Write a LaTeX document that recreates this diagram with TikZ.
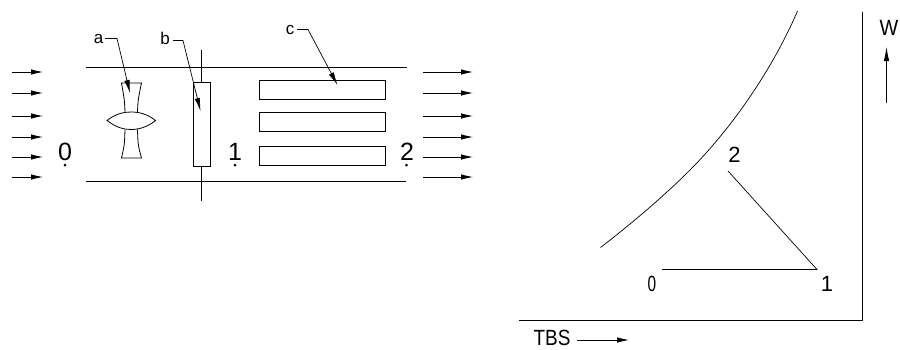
\documentclass[tikz,border=0pt]{standalone}
\usepackage{fontspec}
\setmainfont{Liberation Sans}
\usetikzlibrary{arrows.meta}
\tikzset{
  ln/.style={line width=0.8pt,black},
  flow/.style={ln,-{Latex[length=12pt,width=5.5pt]}},
  leader/.style={line width=0.7pt,black,-{Latex[length=13pt,width=5.5pt]},line join=miter},
  num/.style={font=\fontsize{25}{25}\selectfont,inner sep=0pt,text=black},
  cnum/.style={font=\fontsize{22}{22}\selectfont,inner sep=0pt,text=black},
  tag/.style={font=\fontsize{17}{17}\selectfont,inner sep=0pt,text=black},
  pt/.style={circle,fill=black,inner sep=0pt,minimum size=3pt},
  boxr/.style={ln,draw,fill=none,inner sep=0pt,anchor=north west}
}
\begin{document}
\begin{tikzpicture}[x=1pt,y=-1pt]
\useasboundingbox (0,0) rectangle (900,349);
% duct
\coordinate (dtl) at (86,67.5); \coordinate (dtr) at (407,67.5);
\coordinate (dbl) at (86,181); \coordinate (dbr) at (406,181);
\draw[ln] (dtl) -- (dtr);
\draw[ln] (dbl) -- (dbr);
% flow arrows
\foreach \i/\y in {1/72,2/93,3/116,4/137,5/157,6/177}{
  \coordinate (la\i) at (12,\y); \coordinate (lb\i) at (43,\y);
  \coordinate (ra\i) at (423,\y); \coordinate (rb\i) at (473,\y);
  \draw[flow] (la\i) -- (lb\i);
  \draw[flow] (ra\i) -- (rb\i);
}
% fan
\coordinate (f1) at (121.5,83); \coordinate (f2) at (141.5,83);
\coordinate (f3) at (137.5,112); \coordinate (f4) at (125,112);
\coordinate (f5) at (125,129.5); \coordinate (f6) at (137.5,129.5);
\coordinate (f7) at (141.5,158); \coordinate (f8) at (121.5,158);
\coordinate (fl) at (107,120.5); \coordinate (fr) at (155.5,120.5);
\draw[ln,line join=round] (f4) .. controls (124.5,100) .. (f1) -- (f2) .. controls (138,100) .. (f3);
\draw[ln,line join=round] (f6) .. controls (138,145) .. (f7) -- (f8) .. controls (124.5,145) .. (f5);
\draw[ln,line join=miter] (fl) .. controls (116,113.5) and (124,112) .. (131,112) .. controls (138,112) and (147,113.5) .. (fr)
  .. controls (147,127.5) and (138,129.5) .. (131,129.5) .. controls (124,129.5) and (116,127.5) .. (fl) -- cycle;
% filter
\coordinate (st) at (201.5,50); \coordinate (sb) at (201.5,201);
\draw[ln] (st) -- (sb);
\node[boxr,fill=white,minimum width=17pt,minimum height=84.5pt] (filt) at (193,81.5) {};
% coils
\node[boxr,minimum width=126.5pt,minimum height=19.5pt] (c1) at (258.5,79.5) {};
\node[boxr,minimum width=126.5pt,minimum height=19.5pt] (c2) at (258.5,111.5) {};
\node[boxr,minimum width=126.5pt,minimum height=19.5pt] (c3) at (258.5,145.5) {};
% station labels
\node[num] (n0) at (65,152) {0};
\node[num] (n1) at (235,152) {1};
\node[num] (n2) at (407,152) {2};
\node[pt] (d0) at (65,165) {};
\node[pt] (d1) at (235,165) {};
\node[pt] (d2) at (406.5,165) {};
% leaders
\node[tag] (ta) at (98.5,39) {a};
\node[tag] (tb) at (165,38.5) {b};
\node[tag] (tc) at (290,30.5) {c};
\coordinate (ea) at (130,93); \coordinate (eb) at (200.5,111); \coordinate (ec) at (337.5,85);
\draw[leader] (105,38.5) -- (117,38.5) -- (ea);
\draw[leader] (173,40.5) -- (183,40.5) -- (eb);
\draw[leader] (297,29.5) -- (308,29.5) -- (ec);
% chart axes
\coordinate (ax1) at (862,12); \coordinate (ax2) at (862,320.5); \coordinate (ax3) at (519,320.5);
\draw[ln] (ax1) -- (ax2) -- (ax3);
% saturation curve
\coordinate (s0) at (600.5,247.5); \coordinate (sm) at (690,170); \coordinate (s1) at (797.5,11);
\draw[line width=0.7pt] (s0) .. controls (631,224) and (663,197) .. (sm) .. controls (727,133) and (770,75) .. (s1);
% process
\coordinate (p0) at (662,269.5); \coordinate (p1) at (817,269.5); \coordinate (p2) at (728,171);
\draw[line width=0.7pt] (p0) -- (p1) -- (p2);
\node[cnum,xscale=0.7] (l0) at (652,284) {0};
\node[cnum] (l1) at (827,284) {1};
\node[cnum] (l2) at (734.5,154.5) {2};
% axis labels
\node[cnum,xscale=0.86] (tbs) at (552,338) {TBS};
\coordinate (ta1) at (577,340); \coordinate (ta2) at (629,340);
\draw[flow] (ta1) -- (ta2);
\node[cnum,xscale=0.9] (w) at (889,28) {W};
\coordinate (wa1) at (886.5,103); \coordinate (wa2) at (886.5,47);
\draw[line width=0.8pt,-{Latex[length=14pt,width=5.5pt]}] (wa1) -- (wa2);
\end{tikzpicture}
\end{document}
